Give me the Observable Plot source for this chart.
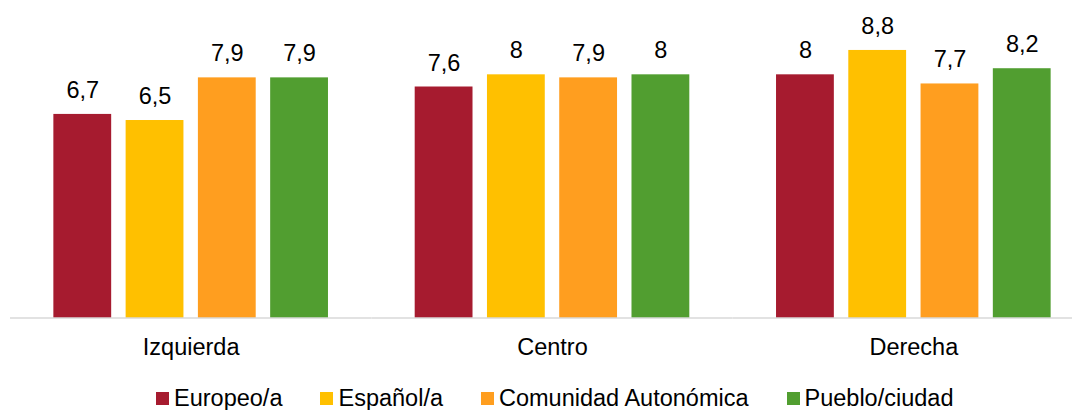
<!DOCTYPE html>
<html><head><meta charset="utf-8">
<script src="https://cdn.jsdelivr.net/npm/d3@7"></script>
<script src="https://cdn.jsdelivr.net/npm/@observablehq/plot@0.6"></script>
<style>
html,body{margin:0;padding:0;background:#fff;}
body{width:1072px;height:410px;overflow:hidden;font-family:"Liberation Sans",Arial,sans-serif;}
#legend{display:flex;align-items:center;height:24px;padding-top:14px;padding-left:156px;font-size:23.5px;color:#000;white-space:nowrap;}
.item{display:flex;align-items:center;margin-right:38px;}
.sw{width:13px;height:13px;margin-right:5px;flex:none;}
</style></head><body><div id="chart"></div><div id="legend"></div>
<script>
const categories = ["Izquierda", "Centro", "Derecha"];
const series = ["Europeo/a", "Español/a", "Comunidad Autonómica", "Pueblo/ciudad"];
const europeo = [6.7, 7.6, 8.0];
const espanol = [6.5, 8.0, 8.8];
const comunidad = [7.9, 7.9, 7.7];
const pueblo = [7.9, 8.0, 8.2];
const colors = ["#A61B2F", "#FFC000", "#FF9E1F", "#519E30"];

const valuesBySeries = [europeo, espanol, comunidad, pueblo];
const data = [];
series.forEach((s, i) => categories.forEach((c, j) => data.push({category: c, series: s, value: valuesBySeries[i][j]})));
const fmt = v => String(v).replace(".", ",");

const chart = Plot.plot({
  width: 1072, height: 372,
  marginTop: 13.4, marginBottom: 54, marginLeft: 10, marginRight: -22,
  fx: {domain: categories, padding: 0, round: false, axis: "bottom", tickSize: 0, tickPadding: 20, label: null},
  x: {domain: series, paddingInner: 0.2, paddingOuter: 0.6, round: false, axis: null},
  y: {domain: [0, 10], axis: null},
  color: {domain: series, range: colors},
  style: {fontFamily: "'Liberation Sans', Arial, sans-serif", fontSize: "23.5px", color: "#000", background: "#fff", overflow: "hidden"},
  marks: [
    Plot.barY(data, {fx: "category", x: "series", y: "value", fill: "series"}),
    Plot.ruleY([0], {stroke: "#d9d9d9", strokeWidth: 1.6, dy: -0.5}),
    Plot.text(data, {fx: "category", x: "series", y: "value", text: d => fmt(d.value), lineAnchor: "bottom", dy: -16.5, fill: "#000"})
  ]
});
document.getElementById("chart").appendChild(chart);

const legend = document.getElementById("legend");
series.forEach((s, i) => {
  const item = document.createElement("div");
  item.className = "item";
  const sw = document.createElement("span");
  sw.className = "sw";
  sw.style.background = colors[i];
  const label = document.createElement("span");
  label.textContent = s;
  item.appendChild(sw);
  item.appendChild(label);
  legend.appendChild(item);
});
</script>
</body></html>
